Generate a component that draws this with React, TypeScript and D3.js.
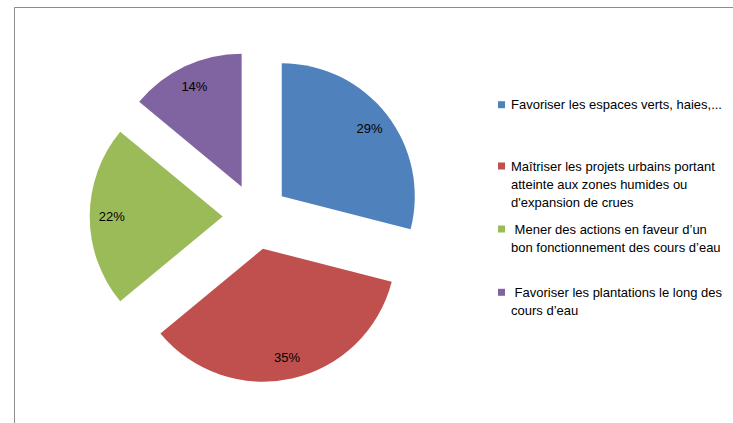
import React from "react";
import * as d3 from "d3";

const categories = [
  "Favoriser les espaces verts, haies,...",
  "Maîtriser les projets urbains portant atteinte aux zones humides ou d'expansion de crues",
  " Mener des actions en faveur d’un bon fonctionnement des cours d’eau",
  " Favoriser les plantations le long des cours d’eau",
];
const values = [29, 35, 22, 14];
const colors = ["#4F81BD", "#C0504D", "#9BBB59", "#8064A2"];
const legendLines = [
  ["Favoriser les espaces verts, haies,..."],
  ["Maîtriser les projets urbains portant", "atteinte aux zones humides ou", "d'expansion de crues"],
  [" Mener des actions en faveur d’un", "bon fonctionnement des cours d’eau"],
  [" Favoriser les plantations le long des", "cours d’eau"],
];
const legendTops = [104.7, 166, 229, 292.3];

export default function App() {
  const W = 733, H = 423;
  const cx = 255.7, cy = 216.5, r = 133, explode = 33, labelR = 111;
  const pie = d3.pie<number>().sort(null).value((d) => d)(values);
  const arc = d3.arc<d3.PieArcDatum<number>>().innerRadius(0).outerRadius(r);
  const labelArc = d3.arc<d3.PieArcDatum<number>>().innerRadius(labelR).outerRadius(labelR);
  const total = d3.sum(values);
  const font = "'Liberation Sans', Arial, sans-serif";
  return (
    <svg width={W} height={H} style={{ position: "absolute", left: 0, top: 0, background: "#fff" }}>
      <line x1={14.5} y1={7.5} x2={W} y2={7.5} stroke="#8c8c8c" />
      <line x1={14.5} y1={7.5} x2={14.5} y2={H} stroke="#8c8c8c" />
      <g transform={`translate(${cx},${cy})`}>
        {pie.map((p, i) => {
          const mid = (p.startAngle + p.endAngle) / 2;
          const dx = Math.sin(mid) * explode;
          const dy = -Math.cos(mid) * explode;
          const [lx, ly] = labelArc.centroid(p);
          return (
            <g key={i} transform={`translate(${dx},${dy})`}>
              <path d={arc(p) || ""} fill={colors[i]} />
              <text x={lx} y={ly} textAnchor="middle" dominantBaseline="central"
                fontFamily={font} fontSize={13} fill="#000">
                {Math.round((p.value / total) * 100) + "%"}
              </text>
            </g>
          );
        })}
      </g>
      {legendLines.map((lines, i) => (
        <g key={i}>
          <rect x={498} y={legendTops[i] - 3.5} width={7} height={7} fill={colors[i]} />
          {lines.map((ln, j) => (
            <text key={j} x={511} y={legendTops[i] + j * 18.3} dominantBaseline="central"
              fontFamily={font} fontSize={13} fill="#000" style={{ whiteSpace: "pre" }}>
              {ln}
            </text>
          ))}
        </g>
      ))}
    </svg>
  );
}
